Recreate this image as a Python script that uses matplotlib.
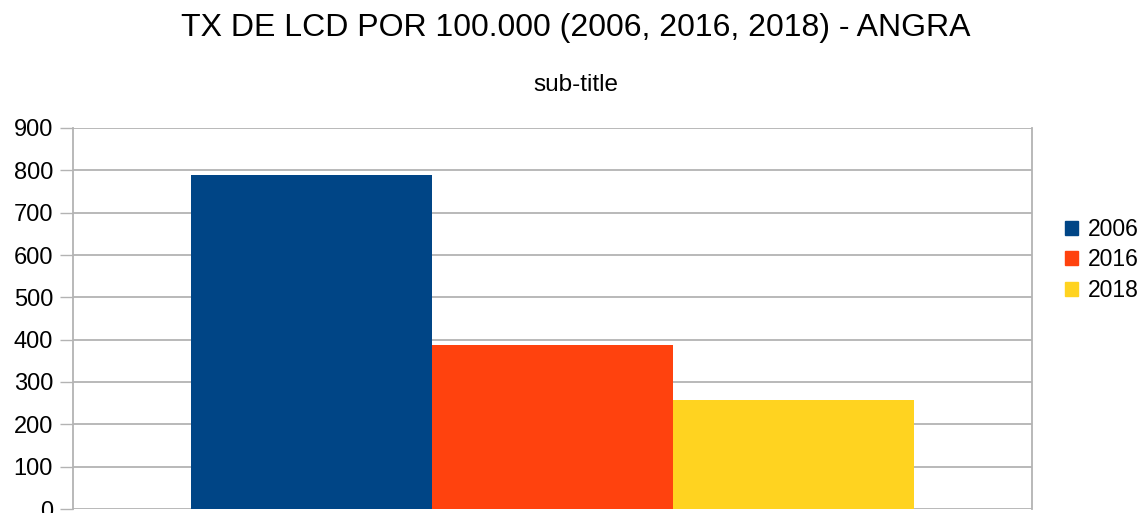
import matplotlib.pyplot as plt
from matplotlib.patches import Patch

plt.rcParams['font.family'] = ['Liberation Sans', 'DejaVu Sans']

# LCD rate per 100.000 inhabitants, Angra
years = ['2006', '2016', '2018']
rates = [789, 387, 257]
colors = ['#004586', '#ff420e', '#ffd320']
y_ticks = list(range(0, 1000, 100))

grid_color = '#b3b3b3'

fig = plt.figure(figsize=(11.45, 5.13), dpi=100)
ax = fig.add_axes([73 / 1145, 4 / 513, 959 / 1145, 381 / 513])

bar_w = 0.251
for i, (yr, val, c) in enumerate(zip(years, rates, colors)):
    ax.bar((i - 1) * bar_w, val, width=bar_w, color=c, zorder=2, label=yr)

ax.set_xlim(-0.5, 0.5)
ax.set_ylim(0, 900)
ax.set_yticks(y_ticks)
ax.set_xticks([])
ax.yaxis.grid(True, color=grid_color, linewidth=1.3, zorder=0)
ax.set_axisbelow(True)
ax.tick_params(axis='y', length=9.4, width=1.0, color=grid_color,
               labelsize=17, labelcolor='#000000', pad=5)
for side in ['top', 'bottom']:
    ax.spines[side].set_visible(False)
for side in ['left', 'right']:
    ax.spines[side].set_color(grid_color)
    ax.spines[side].set_linewidth(1.3)

fig.text(0.503, 1 - 28 / 513, 'TX DE LCD POR 100.000 (2006, 2016, 2018) - ANGRA',
         ha='center', va='center', fontsize=23)
fig.text(0.503, 1 - 85 / 513, 'sub-title', ha='center', va='center', fontsize=17.5)

handles = [Patch(color=c, label=yr) for yr, c in zip(years, colors)]
fig.legend(handles=handles, loc='center left',
           bbox_to_anchor=(1065 / 1145, 1 - 260 / 513), frameon=False,
           fontsize=16.5, handlelength=0.57, handleheight=0.57,
           handletextpad=0.44, labelspacing=0.33, borderpad=0, borderaxespad=0)

fig.savefig('out.png', dpi=100)
